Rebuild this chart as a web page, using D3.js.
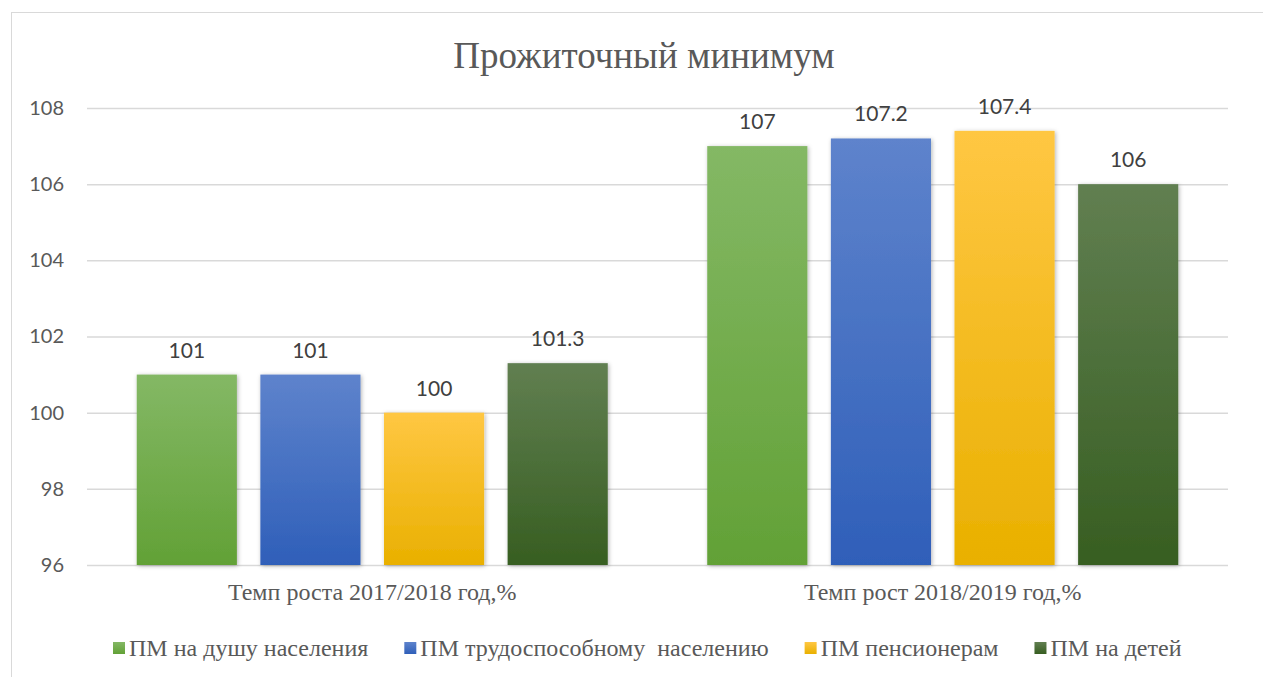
<!DOCTYPE html>
<html>
<head>
<meta charset="utf-8">
<script src="https://cdnjs.cloudflare.com/ajax/libs/d3/7.8.5/d3.min.js"></script>
<style>
  html, body { margin: 0; padding: 0; background: #fff; }
  svg { display: block; }
</style>
</head>
<body>
<svg id="chart"></svg>
<script>
// DATA
var categories = ["Темп роста 2017/2018 год,%", "Темп рост 2018/2019 год,%"];
var seriesNames = ["ПМ на душу населения", "ПМ трудоспособному  населению", "ПМ пенсионерам", "ПМ на детей"];
var seriesValues = [
  [101, 107],     // ПМ на душу населения
  [101, 107.2],   // ПМ трудоспособному населению
  [100, 107.4],   // ПМ пенсионерам
  [101.3, 106]    // ПМ на детей
];
var yTicks = [96, 98, 100, 102, 104, 106, 108];

// SIZES
var width = 1263;
var height = 677;
var margin = {top: 108, right: 35, bottom: 112, left: 87};
var serif = "'Liberation Serif', 'Times New Roman', serif";
var sans = "Lato, 'Liberation Sans', sans-serif";

var colors = [
  {top: "#84b865", bottom: "#62a136"},
  {top: "#5e83cc", bottom: "#2f5fb9"},
  {top: "#ffc743", bottom: "#e9b000"},
  {top: "#617f51", bottom: "#375e21"}
];

var svg = d3.select("#chart")
  .attr("width", width)
  .attr("height", height);

var defs = svg.append("defs");

colors.forEach(function(c, i){
  var g = defs.append("linearGradient")
    .attr("id", "grad" + i)
    .attr("x1", 0).attr("y1", 0).attr("x2", 0).attr("y2", 1);
  g.append("stop").attr("offset", "0%").attr("stop-color", c.top);
  g.append("stop").attr("offset", "100%").attr("stop-color", c.bottom);
});

defs.append("filter")
  .attr("id", "shadow")
  .attr("x", "-10%").attr("y", "-10%").attr("width", "130%").attr("height", "130%")
  .append("feDropShadow")
  .attr("dx", 1).attr("dy", 1)
  .attr("stdDeviation", 2)
  .attr("flood-color", "#000")
  .attr("flood-opacity", 0.3);

// chart border
svg.append("rect")
  .attr("x", 11.5).attr("y", 12.5)
  .attr("width", 1300).attr("height", 700)
  .attr("fill", "none")
  .attr("stroke", "#d9d9d9")
  .attr("stroke-width", 1);

// title
svg.append("text")
  .attr("x", 644)
  .attr("y", 68)
  .attr("text-anchor", "middle")
  .style("font-family", serif)
  .style("font-size", "37px")
  .style("fill", "#595959")
  .text("Прожиточный минимум");

// SCALES
var x0 = d3.scaleBand()
  .domain(categories)
  .range([margin.left, width - margin.right])
  .paddingInner(0.1744)
  .paddingOuter(0.0872);

var x1 = d3.scaleBand()
  .domain(d3.range(seriesNames.length))
  .range([0, x0.bandwidth()])
  .paddingInner(0.19)
  .paddingOuter(0);

var y = d3.scaleLinear()
  .domain([96, 108])
  .range([height - margin.bottom, margin.top]);

// gridlines + y axis
var yAxis = d3.axisLeft(y)
  .tickValues(yTicks)
  .tickSize(-(width - margin.left - margin.right))
  .tickPadding(23);

var yAxisG = svg.append("g")
  .attr("transform", "translate(" + margin.left + ",0)")
  .call(yAxis);

yAxisG.select(".domain").remove();
yAxisG.selectAll(".tick line")
  .attr("stroke", "#d9d9d9")
  .attr("stroke-width", 1.5);
yAxisG.selectAll(".tick text")
  .style("font-family", sans)
  .style("font-size", "20px")
  .style("fill", "#595959");

// bars
function rows(d, ci){
  return seriesValues.map(function(s, si){ return {s: si, v: s[ci]}; });
}

var groups = svg.append("g")
  .selectAll("g")
  .data(categories)
  .join("g")
  .attr("transform", function(d){ return "translate(" + x0(d) + ",0)"; });

groups.selectAll("rect")
  .data(rows)
  .join("rect")
  .attr("x", function(d){ return x1(d.s); })
  .attr("y", function(d){ return y(d.v); })
  .attr("width", x1.bandwidth())
  .attr("height", function(d){ return y(96) - y(d.v); })
  .attr("fill", function(d){ return "url(#grad" + d.s + ")"; })
  .attr("filter", "url(#shadow)");

groups.selectAll("text")
  .data(rows)
  .join("text")
  .attr("x", function(d){ return x1(d.s) + x1.bandwidth() / 2; })
  .attr("y", function(d){ return y(d.v) - 17; })
  .attr("text-anchor", "middle")
  .style("font-family", sans)
  .style("font-size", "21px")
  .style("fill", "#404040")
  .text(function(d){ return d.v; });

// category labels
svg.append("g")
  .selectAll("text")
  .data(categories)
  .join("text")
  .attr("x", function(d){ return x0(d) + x0.bandwidth() / 2; })
  .attr("y", 600)
  .attr("text-anchor", "middle")
  .style("font-family", serif)
  .style("font-size", "24px")
  .style("fill", "#595959")
  .style("white-space", "pre")
  .text(function(d){ return d; });

// legend (laid out one after another by measured text width)
var legend = svg.append("g")
  .selectAll("g")
  .data(seriesNames)
  .join("g");

legend.append("rect")
  .attr("x", 0).attr("y", -6)
  .attr("width", 12).attr("height", 12)
  .attr("fill", function(d, i){ return "url(#grad" + i + ")"; });

legend.append("text")
  .attr("x", 16)
  .attr("y", 8)
  .style("font-family", serif)
  .style("font-size", "24px")
  .style("fill", "#595959")
  .style("white-space", "pre")
  .text(function(d){ return d; });

var legendPos = 113;
legend.each(function(){
  var g = d3.select(this);
  g.attr("transform", "translate(" + legendPos + ",648)");
  legendPos += 16 + g.select("text").node().getComputedTextLength() + 36;
});
</script>
</body>
</html>
